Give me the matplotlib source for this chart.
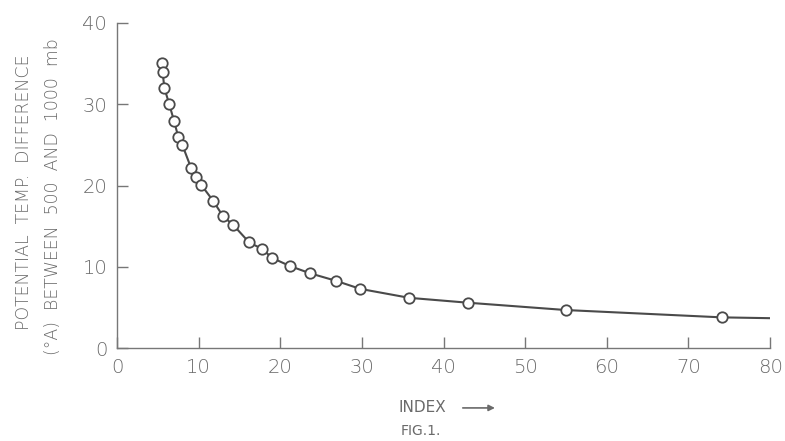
import matplotlib
matplotlib.use("Agg")
import matplotlib.pyplot as plt

# Observed points (index, potential temp difference)
index_pts = [5.5, 5.6, 5.8, 6.4, 7.0, 7.5, 8.0, 9.1, 9.7, 10.3, 11.8, 13.0, 14.2,
             16.2, 17.8, 19.0, 21.2, 23.7, 26.8, 29.8, 35.8, 43.0, 55.0, 74.1]
temp_pts = [35.0, 33.9, 32.0, 30.0, 27.9, 26.0, 25.0, 22.1, 21.1, 20.1, 18.1, 16.2, 15.2,
            13.0, 12.2, 11.1, 10.1, 9.2, 8.3, 7.3, 6.2, 5.6, 4.7, 3.8]
# Fitted curve continues to the right edge
curve_x = index_pts + [80.0]
curve_y = temp_pts + [3.7]

x_ticks = [0, 10, 20, 30, 40, 50, 60, 70, 80]
y_ticks = [0, 10, 20, 30, 40]

ink = "#4a4a4a"
txt = "#6a6a6a"

fig = plt.figure(figsize=(7.85, 4.41), dpi=100)
ax = fig.add_axes([0.149, 0.2102, 0.832, 0.7383])

ax.plot(curve_x, curve_y, color=ink, lw=1.5, zorder=2)
ax.plot(index_pts, temp_pts, linestyle="none", marker="o", markersize=7.5,
        markerfacecolor="white", markeredgecolor=ink, markeredgewidth=1.3, zorder=3)

ax.set_xlim(0, 80)
ax.set_ylim(0, 40)
ax.set_xticks(x_ticks)
ax.set_yticks(y_ticks)
ax.tick_params(direction="in", length=8, width=1, color="#777777",
               labelsize=14, labelcolor=txt, pad=7)
for s in ["top", "right"]:
    ax.spines[s].set_visible(False)
for s in ["left", "bottom"]:
    ax.spines[s].set_color("#777777")
    ax.spines[s].set_linewidth(1.0)

for lab in ax.get_xticklabels() + ax.get_yticklabels():
    lab.set_fontweight("light")

fig.text(0.031, 0.565, "POTENTIAL  TEMP.  DIFFERENCE", rotation=90, ha="center", va="center",
         fontsize=12.5, color=txt, fontweight="light")
fig.text(0.068, 0.555, "(°A)  BETWEEN  500  AND  1000  mb", rotation=90, ha="center", va="center",
         fontsize=12.5, color=txt, fontweight="light")

fig.text(0.538, 0.075, "INDEX", ha="center", va="center", fontsize=11, color=txt)
fig.add_artist(matplotlib.patches.FancyArrowPatch((0.586, 0.075), (0.634, 0.075),
               transform=fig.transFigure, arrowstyle="-|>", mutation_scale=9,
               color=txt, lw=1.2))
fig.text(0.536, 0.022, "FIG.1.", ha="center", va="center", fontsize=10, color=txt)

fig.savefig("out.png", dpi=100)
